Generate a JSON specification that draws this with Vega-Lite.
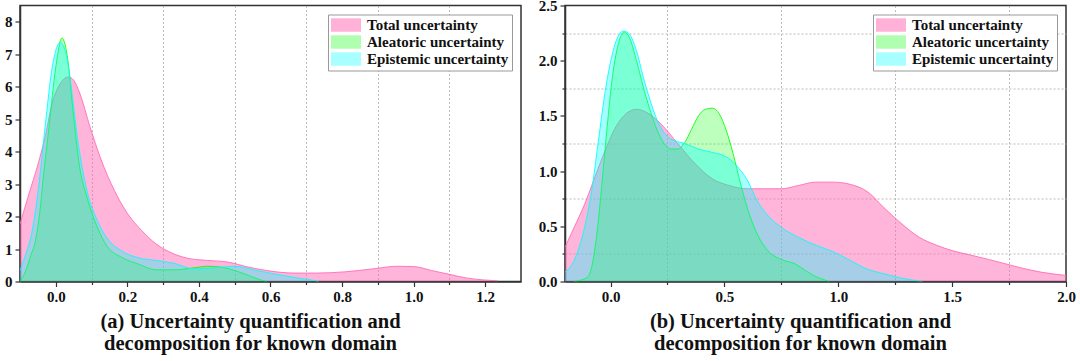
{
"$schema":"https://vega.github.io/schema/vega-lite/v6.json",
"padding":{"left":3,"top":-2.5,"right":2,"bottom":2},
"background":"white",
"spacing":15,
"data":{"values":[
{"p":"a","s":"Total uncertainty","x":-0.1,"y":1.77},
{"p":"a","s":"Total uncertainty","x":-0.075,"y":2.7},
{"p":"a","s":"Total uncertainty","x":-0.05,"y":3.6},
{"p":"a","s":"Total uncertainty","x":-0.029,"y":4.5},
{"p":"a","s":"Total uncertainty","x":-0.01,"y":5.5},
{"p":"a","s":"Total uncertainty","x":0.01,"y":6.05},
{"p":"a","s":"Total uncertainty","x":0.035,"y":6.3},
{"p":"a","s":"Total uncertainty","x":0.05,"y":6.2},
{"p":"a","s":"Total uncertainty","x":0.067,"y":5.8},
{"p":"a","s":"Total uncertainty","x":0.096,"y":4.75},
{"p":"a","s":"Total uncertainty","x":0.125,"y":3.8},
{"p":"a","s":"Total uncertainty","x":0.164,"y":2.8},
{"p":"a","s":"Total uncertainty","x":0.2,"y":2.1},
{"p":"a","s":"Total uncertainty","x":0.24,"y":1.57},
{"p":"a","s":"Total uncertainty","x":0.28,"y":1.16},
{"p":"a","s":"Total uncertainty","x":0.33,"y":0.85},
{"p":"a","s":"Total uncertainty","x":0.376,"y":0.7},
{"p":"a","s":"Total uncertainty","x":0.424,"y":0.65},
{"p":"a","s":"Total uncertainty","x":0.48,"y":0.6},
{"p":"a","s":"Total uncertainty","x":0.54,"y":0.44},
{"p":"a","s":"Total uncertainty","x":0.6,"y":0.32},
{"p":"a","s":"Total uncertainty","x":0.665,"y":0.26},
{"p":"a","s":"Total uncertainty","x":0.73,"y":0.26},
{"p":"a","s":"Total uncertainty","x":0.81,"y":0.3},
{"p":"a","s":"Total uncertainty","x":0.887,"y":0.39},
{"p":"a","s":"Total uncertainty","x":0.954,"y":0.47},
{"p":"a","s":"Total uncertainty","x":1.0,"y":0.46},
{"p":"a","s":"Total uncertainty","x":1.05,"y":0.34},
{"p":"a","s":"Total uncertainty","x":1.1,"y":0.22},
{"p":"a","s":"Total uncertainty","x":1.147,"y":0.11},
{"p":"a","s":"Total uncertainty","x":1.195,"y":0.05},
{"p":"a","s":"Total uncertainty","x":1.234,"y":0.02},
{"p":"a","s":"Aleatoric uncertainty","x":-0.1,"y":0.0},
{"p":"a","s":"Aleatoric uncertainty","x":-0.085,"y":0.3},
{"p":"a","s":"Aleatoric uncertainty","x":-0.07,"y":0.8},
{"p":"a","s":"Aleatoric uncertainty","x":-0.058,"y":1.2},
{"p":"a","s":"Aleatoric uncertainty","x":-0.045,"y":2.1},
{"p":"a","s":"Aleatoric uncertainty","x":-0.034,"y":3.3},
{"p":"a","s":"Aleatoric uncertainty","x":-0.019,"y":4.75},
{"p":"a","s":"Aleatoric uncertainty","x":0.0,"y":6.6},
{"p":"a","s":"Aleatoric uncertainty","x":0.017,"y":7.5},
{"p":"a","s":"Aleatoric uncertainty","x":0.034,"y":6.8},
{"p":"a","s":"Aleatoric uncertainty","x":0.048,"y":5.26},
{"p":"a","s":"Aleatoric uncertainty","x":0.067,"y":3.5},
{"p":"a","s":"Aleatoric uncertainty","x":0.087,"y":2.6},
{"p":"a","s":"Aleatoric uncertainty","x":0.116,"y":1.67},
{"p":"a","s":"Aleatoric uncertainty","x":0.145,"y":1.06},
{"p":"a","s":"Aleatoric uncertainty","x":0.183,"y":0.75},
{"p":"a","s":"Aleatoric uncertainty","x":0.23,"y":0.54},
{"p":"a","s":"Aleatoric uncertainty","x":0.28,"y":0.36},
{"p":"a","s":"Aleatoric uncertainty","x":0.33,"y":0.36},
{"p":"a","s":"Aleatoric uncertainty","x":0.386,"y":0.42},
{"p":"a","s":"Aleatoric uncertainty","x":0.424,"y":0.47},
{"p":"a","s":"Aleatoric uncertainty","x":0.463,"y":0.44},
{"p":"a","s":"Aleatoric uncertainty","x":0.5,"y":0.34},
{"p":"a","s":"Aleatoric uncertainty","x":0.54,"y":0.18},
{"p":"a","s":"Aleatoric uncertainty","x":0.578,"y":0.03},
{"p":"a","s":"Aleatoric uncertainty","x":0.59,"y":0.0},
{"p":"a","s":"Epistemic uncertainty","x":-0.1,"y":0.34},
{"p":"a","s":"Epistemic uncertainty","x":-0.085,"y":0.8},
{"p":"a","s":"Epistemic uncertainty","x":-0.067,"y":1.5},
{"p":"a","s":"Epistemic uncertainty","x":-0.048,"y":2.9},
{"p":"a","s":"Epistemic uncertainty","x":-0.029,"y":4.85},
{"p":"a","s":"Epistemic uncertainty","x":-0.01,"y":6.6},
{"p":"a","s":"Epistemic uncertainty","x":0.012,"y":7.36},
{"p":"a","s":"Epistemic uncertainty","x":0.029,"y":7.0},
{"p":"a","s":"Epistemic uncertainty","x":0.043,"y":6.0},
{"p":"a","s":"Epistemic uncertainty","x":0.063,"y":4.24},
{"p":"a","s":"Epistemic uncertainty","x":0.087,"y":2.8},
{"p":"a","s":"Epistemic uncertainty","x":0.116,"y":1.88},
{"p":"a","s":"Epistemic uncertainty","x":0.145,"y":1.31},
{"p":"a","s":"Epistemic uncertainty","x":0.183,"y":0.95},
{"p":"a","s":"Epistemic uncertainty","x":0.23,"y":0.73},
{"p":"a","s":"Epistemic uncertainty","x":0.28,"y":0.65},
{"p":"a","s":"Epistemic uncertainty","x":0.33,"y":0.56},
{"p":"a","s":"Epistemic uncertainty","x":0.386,"y":0.39},
{"p":"a","s":"Epistemic uncertainty","x":0.443,"y":0.42},
{"p":"a","s":"Epistemic uncertainty","x":0.5,"y":0.47},
{"p":"a","s":"Epistemic uncertainty","x":0.56,"y":0.34},
{"p":"a","s":"Epistemic uncertainty","x":0.617,"y":0.22},
{"p":"a","s":"Epistemic uncertainty","x":0.675,"y":0.11},
{"p":"a","s":"Epistemic uncertainty","x":0.723,"y":0.03},
{"p":"a","s":"Epistemic uncertainty","x":0.735,"y":0.0},
{"p":"b","s":"Total uncertainty","x":-0.2,"y":0.31},
{"p":"b","s":"Total uncertainty","x":-0.16,"y":0.49},
{"p":"b","s":"Total uncertainty","x":-0.114,"y":0.7},
{"p":"b","s":"Total uncertainty","x":-0.068,"y":0.95},
{"p":"b","s":"Total uncertainty","x":-0.023,"y":1.19},
{"p":"b","s":"Total uncertainty","x":0.023,"y":1.4},
{"p":"b","s":"Total uncertainty","x":0.068,"y":1.52},
{"p":"b","s":"Total uncertainty","x":0.114,"y":1.56},
{"p":"b","s":"Total uncertainty","x":0.16,"y":1.53},
{"p":"b","s":"Total uncertainty","x":0.22,"y":1.43},
{"p":"b","s":"Total uncertainty","x":0.295,"y":1.25},
{"p":"b","s":"Total uncertainty","x":0.37,"y":1.07},
{"p":"b","s":"Total uncertainty","x":0.447,"y":0.93},
{"p":"b","s":"Total uncertainty","x":0.52,"y":0.87},
{"p":"b","s":"Total uncertainty","x":0.6,"y":0.84},
{"p":"b","s":"Total uncertainty","x":0.674,"y":0.84},
{"p":"b","s":"Total uncertainty","x":0.75,"y":0.84},
{"p":"b","s":"Total uncertainty","x":0.826,"y":0.87},
{"p":"b","s":"Total uncertainty","x":0.9,"y":0.9},
{"p":"b","s":"Total uncertainty","x":0.977,"y":0.9},
{"p":"b","s":"Total uncertainty","x":1.053,"y":0.88},
{"p":"b","s":"Total uncertainty","x":1.13,"y":0.81},
{"p":"b","s":"Total uncertainty","x":1.2,"y":0.67},
{"p":"b","s":"Total uncertainty","x":1.28,"y":0.52},
{"p":"b","s":"Total uncertainty","x":1.356,"y":0.4},
{"p":"b","s":"Total uncertainty","x":1.43,"y":0.33},
{"p":"b","s":"Total uncertainty","x":1.5,"y":0.28},
{"p":"b","s":"Total uncertainty","x":1.58,"y":0.24},
{"p":"b","s":"Total uncertainty","x":1.66,"y":0.2},
{"p":"b","s":"Total uncertainty","x":1.735,"y":0.16},
{"p":"b","s":"Total uncertainty","x":1.81,"y":0.12},
{"p":"b","s":"Total uncertainty","x":1.89,"y":0.085},
{"p":"b","s":"Total uncertainty","x":2.0,"y":0.055},
{"p":"b","s":"Aleatoric uncertainty","x":-0.16,"y":0.0},
{"p":"b","s":"Aleatoric uncertainty","x":-0.1,"y":0.04},
{"p":"b","s":"Aleatoric uncertainty","x":-0.06,"y":0.43},
{"p":"b","s":"Aleatoric uncertainty","x":-0.038,"y":0.88},
{"p":"b","s":"Aleatoric uncertainty","x":-0.015,"y":1.4},
{"p":"b","s":"Aleatoric uncertainty","x":0.008,"y":1.85},
{"p":"b","s":"Aleatoric uncertainty","x":0.038,"y":2.18},
{"p":"b","s":"Aleatoric uncertainty","x":0.06,"y":2.26},
{"p":"b","s":"Aleatoric uncertainty","x":0.083,"y":2.21},
{"p":"b","s":"Aleatoric uncertainty","x":0.114,"y":2.0},
{"p":"b","s":"Aleatoric uncertainty","x":0.144,"y":1.76},
{"p":"b","s":"Aleatoric uncertainty","x":0.174,"y":1.55},
{"p":"b","s":"Aleatoric uncertainty","x":0.205,"y":1.37},
{"p":"b","s":"Aleatoric uncertainty","x":0.235,"y":1.25},
{"p":"b","s":"Aleatoric uncertainty","x":0.265,"y":1.2},
{"p":"b","s":"Aleatoric uncertainty","x":0.295,"y":1.2},
{"p":"b","s":"Aleatoric uncertainty","x":0.326,"y":1.26},
{"p":"b","s":"Aleatoric uncertainty","x":0.356,"y":1.38},
{"p":"b","s":"Aleatoric uncertainty","x":0.386,"y":1.5},
{"p":"b","s":"Aleatoric uncertainty","x":0.417,"y":1.56},
{"p":"b","s":"Aleatoric uncertainty","x":0.447,"y":1.57},
{"p":"b","s":"Aleatoric uncertainty","x":0.477,"y":1.52},
{"p":"b","s":"Aleatoric uncertainty","x":0.508,"y":1.37},
{"p":"b","s":"Aleatoric uncertainty","x":0.538,"y":1.16},
{"p":"b","s":"Aleatoric uncertainty","x":0.568,"y":0.91},
{"p":"b","s":"Aleatoric uncertainty","x":0.6,"y":0.67},
{"p":"b","s":"Aleatoric uncertainty","x":0.644,"y":0.43},
{"p":"b","s":"Aleatoric uncertainty","x":0.69,"y":0.28},
{"p":"b","s":"Aleatoric uncertainty","x":0.75,"y":0.2},
{"p":"b","s":"Aleatoric uncertainty","x":0.81,"y":0.16},
{"p":"b","s":"Aleatoric uncertainty","x":0.856,"y":0.1},
{"p":"b","s":"Aleatoric uncertainty","x":0.9,"y":0.045},
{"p":"b","s":"Aleatoric uncertainty","x":0.947,"y":0.01},
{"p":"b","s":"Aleatoric uncertainty","x":0.96,"y":0.0},
{"p":"b","s":"Epistemic uncertainty","x":-0.2,"y":0.085},
{"p":"b","s":"Epistemic uncertainty","x":-0.16,"y":0.19},
{"p":"b","s":"Epistemic uncertainty","x":-0.114,"y":0.49},
{"p":"b","s":"Epistemic uncertainty","x":-0.083,"y":0.82},
{"p":"b","s":"Epistemic uncertainty","x":-0.053,"y":1.28},
{"p":"b","s":"Epistemic uncertainty","x":-0.023,"y":1.73},
{"p":"b","s":"Epistemic uncertainty","x":0.008,"y":2.06},
{"p":"b","s":"Epistemic uncertainty","x":0.038,"y":2.24},
{"p":"b","s":"Epistemic uncertainty","x":0.058,"y":2.27},
{"p":"b","s":"Epistemic uncertainty","x":0.083,"y":2.24},
{"p":"b","s":"Epistemic uncertainty","x":0.114,"y":2.09},
{"p":"b","s":"Epistemic uncertainty","x":0.144,"y":1.85},
{"p":"b","s":"Epistemic uncertainty","x":0.174,"y":1.64},
{"p":"b","s":"Epistemic uncertainty","x":0.205,"y":1.46},
{"p":"b","s":"Epistemic uncertainty","x":0.235,"y":1.35},
{"p":"b","s":"Epistemic uncertainty","x":0.265,"y":1.29},
{"p":"b","s":"Epistemic uncertainty","x":0.326,"y":1.25},
{"p":"b","s":"Epistemic uncertainty","x":0.386,"y":1.2},
{"p":"b","s":"Epistemic uncertainty","x":0.447,"y":1.17},
{"p":"b","s":"Epistemic uncertainty","x":0.508,"y":1.13},
{"p":"b","s":"Epistemic uncertainty","x":0.553,"y":1.05},
{"p":"b","s":"Epistemic uncertainty","x":0.6,"y":0.92},
{"p":"b","s":"Epistemic uncertainty","x":0.644,"y":0.73},
{"p":"b","s":"Epistemic uncertainty","x":0.69,"y":0.6},
{"p":"b","s":"Epistemic uncertainty","x":0.75,"y":0.49},
{"p":"b","s":"Epistemic uncertainty","x":0.826,"y":0.4},
{"p":"b","s":"Epistemic uncertainty","x":0.9,"y":0.33},
{"p":"b","s":"Epistemic uncertainty","x":0.977,"y":0.27},
{"p":"b","s":"Epistemic uncertainty","x":1.053,"y":0.19},
{"p":"b","s":"Epistemic uncertainty","x":1.13,"y":0.11},
{"p":"b","s":"Epistemic uncertainty","x":1.2,"y":0.07},
{"p":"b","s":"Epistemic uncertainty","x":1.28,"y":0.03},
{"p":"b","s":"Epistemic uncertainty","x":1.37,"y":0.0}
]},
"hconcat":[
{
"width":501,"height":276,
"title":{"text":["(a) Uncertainty quantification and","decomposition for known domain"],"orient":"bottom","anchor":"middle","dx":-20,"offset":7},
"transform":[{"filter":"datum.p=='a'"}],
"encoding":{
"x":{"field":"x","type":"quantitative","scale":{"domain":[-0.1,1.3],"nice":false,"zero":false},
 "axis":{"values":[0,0.1,0.2,0.3,0.4,0.5,0.6,0.7,0.8,0.9,1.0,1.1,1.2],"format":".1f","grid":true,
  "gridOpacity":{"condition":{"test":"round(datum.value*10)%2!=0","value":1},"value":0},
  "labelOpacity":{"condition":{"test":"round(datum.value*10)%2!=0","value":0},"value":1},
  "tickSize":{"condition":{"test":"round(datum.value*10)%2!=0","value":3},"value":5}}},
"y":{"field":"y","type":"quantitative","scale":{"domain":[0,8.5],"nice":false},
 "axis":{"values":[0,0.5,1,1.5,2,2.5,3,3.5,4,4.5,5,5.5,6,6.5,7,7.5,8],"format":"d","grid":true,
  "gridOpacity":{"condition":{"test":"round(datum.value*2)%2!=0","value":1},"value":0},
  "labelOpacity":{"condition":{"test":"round(datum.value*2)%2!=0","value":0},"value":1},
  "tickSize":{"condition":{"test":"round(datum.value*2)%2!=0","value":3},"value":5}}},
"color":{"field":"s","type":"nominal","scale":{"domain":["Total uncertainty","Aleatoric uncertainty","Epistemic uncertainty"],"range":["#FF69B4","#00FF00","#00FFFF"]},
 "legend":{"title":null,"encode":{"symbols":{"update":{"fillOpacity":{"signal":"datum.value=='Total uncertainty' ? 0.52 : (datum.value=='Aleatoric uncertainty' ? 0.31 : 0.34)"},"opacity":{"value":1}}}}}}
},
"layer":[
{"transform":[{"filter":"datum.s=='Total uncertainty'"}],"mark":{"type":"area","opacity":1,"fillOpacity":0.5,"interpolate":"monotone","clip":true,"line":{"strokeWidth":1,"strokeOpacity":0.85}}},
{"transform":[{"filter":"datum.s=='Aleatoric uncertainty'"}],"mark":{"type":"area","opacity":1,"fillOpacity":0.26,"interpolate":"monotone","clip":true,"line":{"strokeWidth":1,"strokeOpacity":0.85}}},
{"transform":[{"filter":"datum.s=='Epistemic uncertainty'"}],"mark":{"type":"area","opacity":1,"fillOpacity":0.35,"interpolate":"monotone","clip":true,"line":{"strokeWidth":1,"strokeOpacity":0.85}}}
]
},
{
"width":501,"height":276,
"title":{"text":["(b) Uncertainty quantification and","decomposition for known domain"],"orient":"bottom","anchor":"middle","dx":-15,"offset":7},
"transform":[{"filter":"datum.p=='b'"}],
"encoding":{
"x":{"field":"x","type":"quantitative","scale":{"domain":[-0.2,2.0],"nice":false,"zero":false},
 "axis":{"values":[0,0.25,0.5,0.75,1,1.25,1.5,1.75,2],"format":".1f","grid":true,
  "gridOpacity":{"condition":{"test":"round(datum.value*4)%2!=0","value":1},"value":0},
  "labelOpacity":{"condition":{"test":"round(datum.value*4)%2!=0","value":0},"value":1},
  "tickSize":{"condition":{"test":"round(datum.value*4)%2!=0","value":3},"value":5}}},
"y":{"field":"y","type":"quantitative","scale":{"domain":[0,2.5],"nice":false},
 "axis":{"values":[0,0.25,0.5,0.75,1,1.25,1.5,1.75,2,2.25,2.5],"format":".1f","grid":true,
  "gridOpacity":{"condition":{"test":"round(datum.value*4)%2!=0","value":1},"value":0},
  "labelOpacity":{"condition":{"test":"round(datum.value*4)%2!=0","value":0},"value":1},
  "tickSize":{"condition":{"test":"round(datum.value*4)%2!=0","value":3},"value":5}}},
"color":{"field":"s","type":"nominal","scale":{"domain":["Total uncertainty","Aleatoric uncertainty","Epistemic uncertainty"],"range":["#FF69B4","#00FF00","#00FFFF"]},
 "legend":{"title":null,"encode":{"symbols":{"update":{"fillOpacity":{"signal":"datum.value=='Total uncertainty' ? 0.52 : (datum.value=='Aleatoric uncertainty' ? 0.31 : 0.34)"},"opacity":{"value":1}}}}}}
},
"layer":[
{"transform":[{"filter":"datum.s=='Total uncertainty'"}],"mark":{"type":"area","opacity":1,"fillOpacity":0.5,"interpolate":"monotone","clip":true,"line":{"strokeWidth":1,"strokeOpacity":0.85}}},
{"transform":[{"filter":"datum.s=='Aleatoric uncertainty'"}],"mark":{"type":"area","opacity":1,"fillOpacity":0.26,"interpolate":"monotone","clip":true,"line":{"strokeWidth":1,"strokeOpacity":0.85}}},
{"transform":[{"filter":"datum.s=='Epistemic uncertainty'"}],"mark":{"type":"area","opacity":1,"fillOpacity":0.35,"interpolate":"monotone","clip":true,"line":{"strokeWidth":1,"strokeOpacity":0.85}}}
]
}
],
"resolve":{"scale":{"x":"independent","y":"independent"},"legend":{"color":"independent"}},
"config":{
"font":"Liberation Serif",
"view":{"stroke":"#333","strokeWidth":1.5},
"axis":{"labelFont":"Liberation Serif","labelFontWeight":"bold","labelFontSize":15,"labelColor":"#111","labelFlush":false,"labelOverlap":false,"labelPadding":3,"domainColor":"#333","domainWidth":1.5,"tickColor":"#333","tickWidth":1.2,"gridColor":"#bbb","gridDash":[2,2],"gridWidth":1,"title":null},
"legend":{"orient":"top-right","offset":9,"strokeColor":"#999","fillColor":"white","padding":3,"cornerRadius":0,"labelFont":"Liberation Serif","labelFontWeight":"bold","labelFontSize":15,"labelColor":"#111","symbolType":"M-1,-0.9H3V0.9H-1Z","symbolSize":225,"symbolStrokeWidth":0,"labelOffset":21,"rowPadding":1,"labelLimit":300},
"title":{"font":"Liberation Serif","fontSize":20.5,"fontWeight":"bold","color":"#111","lineHeight":22}
}
}
